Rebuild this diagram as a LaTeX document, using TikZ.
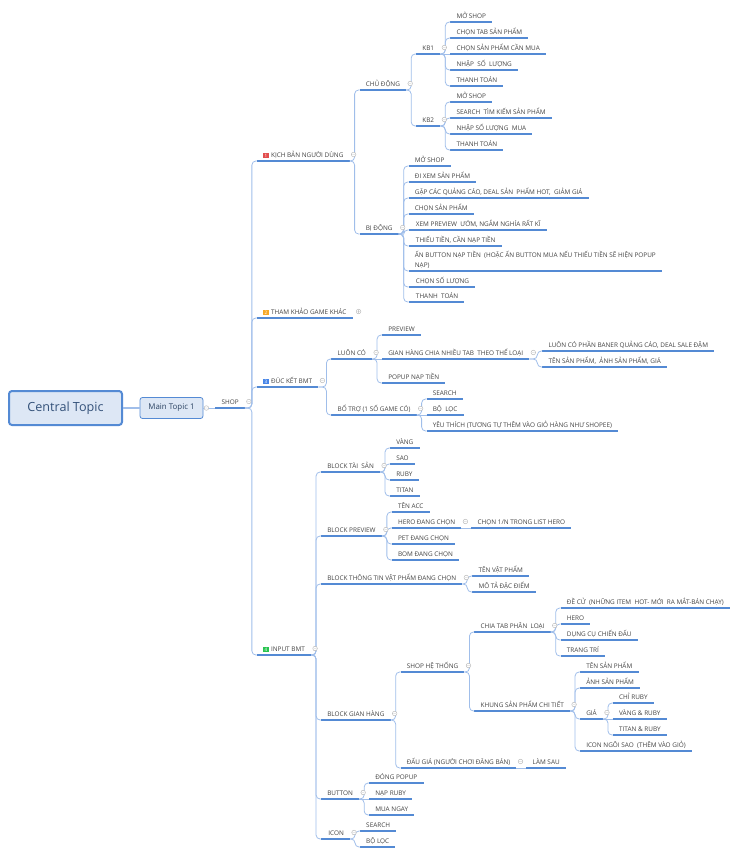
\documentclass[tikz,border=0pt]{standalone}
\usepackage{fontspec}
\setmainfont{Open Sans}
\usetikzlibrary{calc}

\definecolor{ulinecol}{RGB}{84,138,212}
\definecolor{conncol}{RGB}{160,190,234}
\definecolor{ink}{RGB}{66,66,66}
\definecolor{cfill}{RGB}{221,231,245}
\definecolor{cink}{RGB}{52,82,122}
\definecolor{badgeA}{RGB}{226,78,78}
\definecolor{badgeB}{RGB}{246,168,40}
\definecolor{badgeC}{RGB}{72,134,232}
\definecolor{badgeD}{RGB}{40,196,80}

\newcommand\badge[2]{{\setlength{\fboxsep}{1pt}\colorbox{#1}{\makebox[3.6pt]{\fontsize{4.6}{4.6}\selectfont\color{white}#2}}}\hspace{2.4pt}}
\newcommand\foldmark[1]{\draw[fold] ($(#1.south east)+(4,-6.5)$) circle[radius=2.3pt] ++(-1.3,0) -- ++(2.6,0);}
\newcommand\openmark[1]{\draw[fold] ($(#1.south east)+(6,-6.5)$) circle[radius=2.3pt] ++(-1.3,0) -- ++(2.6,0) ++(-1.3,-1.3) -- ++(0,2.6);}

\begin{document}
\begin{tikzpicture}[x=1pt,y=-1pt,
    topic/.style={anchor=south west,inner xsep=6pt,inner ysep=2.6pt,text height=5pt,text depth=0.9pt,
      text=ink,font=\fontsize{6.4}{8}\selectfont,
      append after command={(\tikzlastnode.south west) edge[uline] (\tikzlastnode.south east)}},
    kid/.style={topic,xshift=10pt},
    uline/.style={draw=ulinecol,line width=1.2pt},
    link/.style={draw=conncol,line width=.8pt,rounded corners=4pt,
      to path={-| ($(\tikztotarget)+(-5,0)$) -- (\tikztotarget)}},
    flat/.style={draw=conncol,line width=.8pt},
    fold/.style={draw=black!28,fill=white,line width=.45pt},
    central/.style={draw=ulinecol,fill=cfill,line width=2pt,rounded corners=3pt,
      minimum width=113pt,minimum height=34pt,text=cink,font=\fontsize{12.6}{14}\selectfont},
    maintopic/.style={draw=ulinecol,fill=cfill,line width=.8pt,rounded corners=2.5pt,
      minimum width=63pt,minimum height=21pt,text=cink!80!black,font=\fontsize{7.9}{9}\selectfont}]
\useasboundingbox (0,0) rectangle (750,856);

\node[central] (CEN) at (65.5,408) {Central Topic};
\node[maintopic] (MAIN) at (171.5,408) {Main Topic 1};
\node[topic,xshift=12pt] (SHOP) at (MAIN.east) {SHOP};
\draw[uline,line width=2pt] (SHOP.south west) -- (SHOP.south east);
\draw[flat,line width=1.6pt] (CEN) -- (MAIN);
\draw[flat] (MAIN.east) -- (SHOP.south west);

% level 1
\node[topic,xshift=12pt] (K1) at (SHOP.south east |- 0,161) {\badge{badgeA}{1}KỊCH BẢN NGƯỜI DÙNG};
\node[topic,xshift=12pt] (K2) at (SHOP.south east |- 0,318) {\badge{badgeB}{2}THAM KHẢO GAME KHÁC};
\node[topic,xshift=12pt] (K3) at (SHOP.south east |- 0,387) {\badge{badgeC}{3}ĐÚC KẾT BMT};
\node[topic,xshift=12pt] (K4) at (SHOP.south east |- 0,655) {\badge{badgeD}{4}INPUT BMT};

% kich ban nguoi dung
\node[kid] (CD) at (K1.south east |- 0,90) {CHỦ ĐỘNG};
\node[kid] (BD) at (K1.south east |- 0,234) {BỊ ĐỘNG};
\node[kid] (KB1) at (CD.south east |- 0,54) {KB1};
\node[kid] (KB2) at (CD.south east |- 0,126) {KB2};
\node[kid] (A1) at (KB1.south east |- 0,22) {MỞ SHOP};
\node[kid] (A2) at (KB1.south east |- 0,38) {CHỌN TAB SẢN PHẨM};
\node[kid] (A3) at (KB1.south east |- 0,54) {CHỌN SẢN PHẨM CẦN MUA};
\node[kid] (A4) at (KB1.south east |- 0,70) {NHẬP~ SỐ~ LƯỢNG};
\node[kid] (A5) at (KB1.south east |- 0,86) {THANH TOÁN};
\node[kid] (B1) at (KB2.south east |- 0,102) {MỞ SHOP};
\node[kid] (B2) at (KB2.south east |- 0,118) {SEARCH~ TÌM KIẾM SẢN PHẨM};
\node[kid] (B3) at (KB2.south east |- 0,134) {NHẬP SỐ LƯỢNG~ MUA};
\node[kid] (B4) at (KB2.south east |- 0,150) {THANH TOÁN};
\node[kid] (P1) at (BD.south east |- 0,166) {MỞ SHOP};
\node[kid] (P2) at (BD.south east |- 0,182) {ĐI XEM SẢN PHẨM};
\node[kid] (P3) at (BD.south east |- 0,198) {GẶP CÁC QUẢNG CÁO, DEAL SẢN~ PHẨM HOT,~ GIẢM GIÁ};
\node[kid] (P4) at (BD.south east |- 0,214) {CHỌN SẢN PHẨM};
\node[kid] (P5) at (BD.south east |- 0,230) {\,XEM PREVIEW~ ƯỚM, NGẮM NGHÍA RẤT KĨ};
\node[kid] (P6) at (BD.south east |- 0,246) {\,THIẾU TIỀN, CẦN NẠP TIỀN};
\node[kid,align=left,font=\fontsize{6.4}{10}\selectfont] (P7) at (BD.south east |- 0,271) {ẤN BUTTON NẠP TIỀN~ (HOẶC ẤN BUTTON MUA NẾU THIẾU TIỀN SẼ HIỆN POPUP\\NẠP)};
\node[kid] (P8) at (BD.south east |- 0,287) {\,CHỌN SỐ LƯỢNG};
\node[kid] (P9) at (BD.south east |- 0,302) {\,THANH~ TOÁN};

% duc ket bmt
\node[kid,xshift=3pt] (LC) at (K3.south east |- 0,359) {LUÔN CÓ};
\node[kid,xshift=3pt] (BT) at (K3.south east |- 0,415) {BỔ TRỢ (1 SỐ GAME CÓ)};
\node[kid] (LC1) at (LC.south east |- 0,335) {PREVIEW};
\node[kid] (LC2) at (LC.south east |- 0,359) {GIAN HÀNG CHIA NHIỀU TAB~ THEO THỂ LOẠI};
\node[kid] (LC3) at (LC.south east |- 0,383) {POPUP NẠP TIỀN};
\node[kid,xshift=3pt] (GH1) at (LC2.south east |- 0,351) {LUÔN CÓ PHẦN BANER QUẢNG CÁO, DEAL SALE ĐẬM};
\node[kid,xshift=3pt] (GH2) at (LC2.south east |- 0,367) {TÊN SẢN PHẨM,~ ẢNH SẢN PHẨM, GIÁ};
\node[kid] (BT1) at (BT.south east |- 0,399) {SEARCH};
\node[kid] (BT2) at (BT.south east |- 0,415) {BỘ~ LỌC};
\node[kid] (BT3) at (BT.south east |- 0,431) {YÊU THÍCH (TƯƠNG TỰ THÊM VÀO GIỎ HÀNG NHƯ SHOPEE)};

% input bmt
\node[kid] (TS) at (K4.south east |- 0,472) {BLOCK TÀI~ SẢN};
\node[kid] (PV) at (K4.south east |- 0,536) {BLOCK PREVIEW};
\node[kid] (TT) at (K4.south east |- 0,584) {BLOCK THÔNG TIN VẬT PHẨM ĐANG CHỌN};
\node[kid] (GH) at (K4.south east |- 0,720) {BLOCK GIAN HÀNG};
\node[kid] (BU) at (K4.south east |- 0,799) {BUTTON};
\node[kid] (IC) at (K4.south east |- 0,839) {\,ICON};
\node[kid] (TS1) at (TS.south east |- 0,448) {VÀNG};
\node[kid] (TS2) at (TS.south east |- 0,464) {SAO};
\node[kid] (TS3) at (TS.south east |- 0,480) {RUBY};
\node[kid] (TS4) at (TS.south east |- 0,496) {TITAN};
\node[kid] (PV1) at (PV.south east |- 0,512) {TÊN ACC};
\node[kid] (PV2) at (PV.south east |- 0,528) {HERO ĐANG CHỌN};
\node[kid] (PV3) at (PV.south east |- 0,544) {PET ĐANG CHỌN};
\node[kid] (PV4) at (PV.south east |- 0,560) {BOM ĐANG CHỌN};
\node[kid] (PVH) at (PV2.south east |- 0,528) {CHỌN 1/N TRONG LIST HERO};
\node[kid] (TT1) at (TT.south east |- 0,576) {TÊN VẬT PHẨM};
\node[kid] (TT2) at (TT.south east |- 0,592) {MÔ TẢ ĐẶC ĐIỂM};
\node[kid] (SH) at (GH.south east |- 0,672) {SHOP HỆ THỐNG};
\node[kid] (DG) at (GH.south east |- 0,768) {ĐẤU GIÁ (NGƯỜI CHƠI ĐĂNG BÁN)};
\node[kid] (LS) at (DG.south east |- 0,768) {LÀM SAU};
\node[kid] (CTAB) at (SH.south east |- 0,632) {CHIA TAB PHÂN~ LOẠI};
\node[kid] (KH) at (SH.south east |- 0,711) {KHUNG SẢN PHẨM CHI TIẾT};
\node[kid] (CT1) at (CTAB.south east |- 0,608) {ĐỀ CỬ~ (NHỮNG ITEM~ HOT- MỚI~ RA MẮT-BÁN CHẠY)};
\node[kid] (CT2) at (CTAB.south east |- 0,624) {HERO};
\node[kid] (CT3) at (CTAB.south east |- 0,640) {DỤNG CỤ CHIẾN ĐẤU};
\node[kid] (CT4) at (CTAB.south east |- 0,656) {TRANG TRÍ};
\node[kid] (KH1) at (KH.south east |- 0,672) {TÊN SẢN PHẨM};
\node[kid] (KH2) at (KH.south east |- 0,688) {ẢNH SẢN PHẨM};
\node[kid] (GIA) at (KH.south east |- 0,719) {GIÁ};
\node[kid] (KH4) at (KH.south east |- 0,751) {ICON NGÔI SAO~ (THÊM VÀO GIỎ)};
\node[kid] (GIA1) at (GIA.south east |- 0,703) {CHỈ RUBY};
\node[kid] (GIA2) at (GIA.south east |- 0,719) {VÀNG \& RUBY};
\node[kid] (GIA3) at (GIA.south east |- 0,735) {TITAN \& RUBY};
\node[kid] (BU1) at (BU.south east |- 0,783) {ĐÓNG POPUP};
\node[kid] (BU2) at (BU.south east |- 0,799) {NẠP RUBY};
\node[kid] (BU3) at (BU.south east |- 0,815) {MUA NGAY};
\node[kid] (IC1) at (IC.south east |- 0,831) {SEARCH};
\node[kid] (IC2) at (IC.south east |- 0,847) {BỘ LỌC};

% connectors
\foreach \c in {K1,K2,K3,K4} \path (SHOP.south east) edge[link] (\c.south west);
\foreach \c in {CD,BD} \path (K1.south east) edge[link] (\c.south west);
\foreach \c in {KB1,KB2} \path (CD.south east) edge[link] (\c.south west);
\foreach \c in {A1,A2,A4,A5} \path (KB1.south east) edge[link] (\c.south west);
\path (KB1.south east) edge[flat] (A3.south west);
\foreach \c in {B1,B2,B3,B4} \path (KB2.south east) edge[link] (\c.south west);
\foreach \c in {P1,P2,P3,P4,P5,P6,P7,P8,P9} \path (BD.south east) edge[link] (\c.south west);
\foreach \c in {LC,BT} \path (K3.south east) edge[link] (\c.south west);
\foreach \c in {LC1,LC3} \path (LC.south east) edge[link] (\c.south west);
\path (LC.south east) edge[flat] (LC2.south west);
\foreach \c in {GH1,GH2} \path (LC2.south east) edge[link] (\c.south west);
\foreach \c in {BT1,BT3} \path (BT.south east) edge[link] (\c.south west);
\path (BT.south east) edge[flat] (BT2.south west);
\foreach \c in {TS,PV,TT,GH,BU,IC} \path (K4.south east) edge[link] (\c.south west);
\foreach \c in {TS1,TS2,TS3,TS4} \path (TS.south east) edge[link] (\c.south west);
\foreach \c in {PV1,PV2,PV3,PV4} \path (PV.south east) edge[link] (\c.south west);
\path (PV2.south east) edge[flat] (PVH.south west);
\foreach \c in {TT1,TT2} \path (TT.south east) edge[link] (\c.south west);
\foreach \c in {SH,DG} \path (GH.south east) edge[link] (\c.south west);
\path (DG.south east) edge[flat] (LS.south west);
\foreach \c in {CTAB,KH} \path (SH.south east) edge[link] (\c.south west);
\foreach \c in {CT1,CT2,CT3,CT4} \path (CTAB.south east) edge[link] (\c.south west);
\foreach \c in {KH1,KH2,GIA,KH4} \path (KH.south east) edge[link] (\c.south west);
\foreach \c in {GIA1,GIA3} \path (GIA.south east) edge[link] (\c.south west);
\path (GIA.south east) edge[flat] (GIA2.south west);
\foreach \c in {BU1,BU3} \path (BU.south east) edge[link] (\c.south west);
\path (BU.south east) edge[flat] (BU2.south west);
\foreach \c in {IC1,IC2} \path (IC.south east) edge[link] (\c.south west);

% collapse markers
\draw[fold] ($(MAIN.east)+(3,0)$) circle[radius=2.3pt] ++(-1.3,0) -- ++(2.6,0);
\foreach \n in {SHOP,K1,K3,K4,CD,BD,KB1,KB2,LC,BT,LC2,TS,PV,PV2,TT,GH,SH,DG,CTAB,KH,GIA,BU,IC}
  {\foldmark{\n}}
\openmark{K2}
\end{tikzpicture}
\end{document}
